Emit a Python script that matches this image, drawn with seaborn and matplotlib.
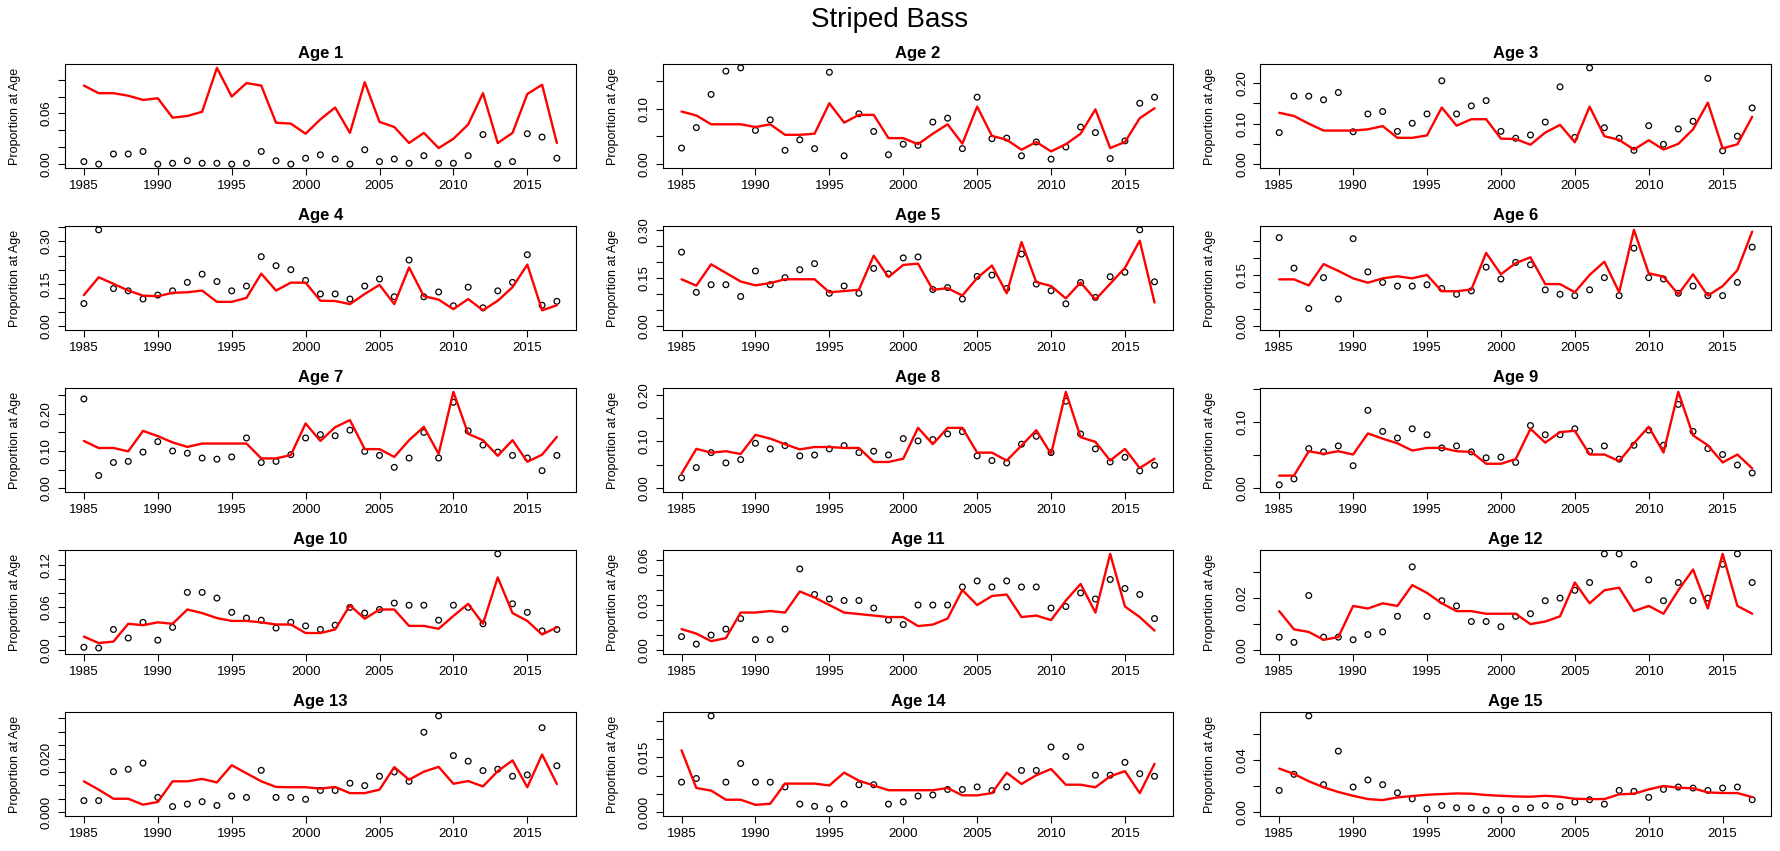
import numpy as np
import pandas as pd
import matplotlib
matplotlib.use("Agg")
import matplotlib.pyplot as plt
import seaborn as sns

# ── Data: observed (points) and predicted (line) proportion at age ───────────
years = list(range(1985, 2018))

obs_age1 = [0.003, 0.000, 0.012, 0.012, 0.015, 0.000, 0.001, 0.004, 0.001, 0.001,
            0.000, 0.001, 0.015, 0.004, 0.000, 0.007, 0.011, 0.006, 0.000, 0.017,
            0.003, 0.006, 0.001, 0.010, 0.001, 0.001, 0.010, 0.035, 0.000, 0.003,
            0.036, 0.032, 0.007]
pred_age1 = [0.093, 0.084, 0.084, 0.081, 0.076, 0.078, 0.055, 0.057, 0.062, 0.114,
             0.080, 0.096, 0.093, 0.049, 0.048, 0.036, 0.053, 0.067, 0.037, 0.097,
             0.050, 0.044, 0.025, 0.037, 0.019, 0.030, 0.047, 0.084, 0.025, 0.037,
             0.083, 0.094, 0.025]

obs_age2 = [0.029, 0.066, 0.126, 0.168, 0.174, 0.061, 0.080, 0.025, 0.044, 0.028,
            0.166, 0.015, 0.091, 0.059, 0.017, 0.036, 0.034, 0.076, 0.083, 0.028,
            0.121, 0.046, 0.047, 0.015, 0.040, 0.009, 0.031, 0.067, 0.057, 0.010,
            0.042, 0.110, 0.121]
pred_age2 = [0.095, 0.088, 0.072, 0.072, 0.072, 0.067, 0.072, 0.053, 0.053, 0.055,
             0.110, 0.075, 0.089, 0.089, 0.047, 0.047, 0.036, 0.055, 0.072, 0.037,
             0.104, 0.051, 0.044, 0.026, 0.040, 0.023, 0.036, 0.055, 0.099, 0.029,
             0.040, 0.083, 0.101]

obs_age3 = [0.078, 0.168, 0.168, 0.159, 0.177, 0.080, 0.124, 0.130, 0.081, 0.101,
            0.124, 0.206, 0.124, 0.144, 0.157, 0.081, 0.064, 0.072, 0.104, 0.191,
            0.066, 0.238, 0.090, 0.064, 0.034, 0.095, 0.049, 0.087, 0.106, 0.212,
            0.033, 0.069, 0.139]
pred_age3 = [0.127, 0.119, 0.100, 0.083, 0.083, 0.083, 0.086, 0.094, 0.065, 0.065,
             0.071, 0.140, 0.095, 0.111, 0.111, 0.063, 0.062, 0.048, 0.078, 0.097,
             0.054, 0.142, 0.069, 0.060, 0.036, 0.059, 0.036, 0.050, 0.086, 0.152,
             0.039, 0.049, 0.117]

obs_age4 = [0.080, 0.341, 0.133, 0.125, 0.096, 0.110, 0.125, 0.155, 0.184, 0.158,
            0.125, 0.142, 0.246, 0.214, 0.200, 0.162, 0.114, 0.114, 0.096, 0.142,
            0.167, 0.104, 0.234, 0.104, 0.121, 0.072, 0.138, 0.065, 0.125, 0.155,
            0.253, 0.074, 0.088]
pred_age4 = [0.110, 0.173, 0.150, 0.126, 0.108, 0.106, 0.118, 0.120, 0.126, 0.086,
             0.086, 0.100, 0.186, 0.126, 0.154, 0.154, 0.090, 0.089, 0.078, 0.114,
             0.146, 0.078, 0.208, 0.106, 0.094, 0.060, 0.096, 0.056, 0.090, 0.138,
             0.218, 0.056, 0.074]

obs_age5 = [0.232, 0.106, 0.130, 0.130, 0.093, 0.173, 0.130, 0.152, 0.177, 0.196,
            0.103, 0.126, 0.103, 0.181, 0.164, 0.214, 0.217, 0.115, 0.121, 0.085,
            0.156, 0.160, 0.118, 0.226, 0.132, 0.111, 0.070, 0.137, 0.090, 0.155,
            0.169, 0.302, 0.139]
pred_age5 = [0.147, 0.127, 0.194, 0.167, 0.140, 0.128, 0.135, 0.147, 0.147, 0.147,
             0.106, 0.110, 0.114, 0.221, 0.154, 0.192, 0.196, 0.114, 0.119, 0.096,
             0.151, 0.190, 0.103, 0.264, 0.138, 0.126, 0.087, 0.137, 0.083, 0.133,
             0.183, 0.268, 0.074]

obs_age6 = [0.261, 0.171, 0.052, 0.143, 0.080, 0.258, 0.160, 0.129, 0.118, 0.118,
            0.122, 0.111, 0.094, 0.104, 0.174, 0.139, 0.188, 0.181, 0.107, 0.094,
            0.090, 0.107, 0.143, 0.090, 0.230, 0.143, 0.139, 0.097, 0.118, 0.090,
            0.090, 0.129, 0.233]
pred_age6 = [0.138, 0.138, 0.120, 0.183, 0.163, 0.141, 0.128, 0.141, 0.147, 0.141,
             0.151, 0.103, 0.103, 0.108, 0.216, 0.153, 0.186, 0.203, 0.124, 0.124,
             0.100, 0.151, 0.190, 0.100, 0.284, 0.156, 0.146, 0.094, 0.153, 0.090,
             0.118, 0.165, 0.279]

obs_age7 = [0.240, 0.034, 0.069, 0.072, 0.097, 0.125, 0.100, 0.094, 0.081, 0.078,
            0.084, 0.135, 0.069, 0.072, 0.090, 0.135, 0.144, 0.141, 0.156, 0.099,
            0.088, 0.056, 0.081, 0.150, 0.081, 0.231, 0.154, 0.116, 0.097, 0.088,
            0.081, 0.047, 0.088]
pred_age7 = [0.127, 0.108, 0.108, 0.099, 0.154, 0.140, 0.123, 0.111, 0.120, 0.120,
             0.120, 0.120, 0.080, 0.080, 0.089, 0.174, 0.127, 0.164, 0.183, 0.105,
             0.105, 0.084, 0.129, 0.165, 0.092, 0.259, 0.146, 0.129, 0.087, 0.129,
             0.071, 0.090, 0.138]

obs_age8 = [0.022, 0.044, 0.076, 0.054, 0.061, 0.096, 0.084, 0.091, 0.069, 0.071,
            0.084, 0.091, 0.076, 0.079, 0.071, 0.106, 0.101, 0.104, 0.116, 0.121,
            0.069, 0.059, 0.054, 0.094, 0.111, 0.076, 0.186, 0.116, 0.084, 0.056,
            0.066, 0.037, 0.049]
pred_age8 = [0.031, 0.084, 0.076, 0.079, 0.073, 0.114, 0.106, 0.094, 0.083, 0.088,
             0.088, 0.086, 0.086, 0.056, 0.056, 0.063, 0.129, 0.094, 0.129, 0.129,
             0.076, 0.076, 0.059, 0.091, 0.124, 0.073, 0.206, 0.109, 0.099, 0.059,
             0.084, 0.043, 0.063]

obs_age9 = [0.005, 0.014, 0.060, 0.055, 0.064, 0.034, 0.118, 0.086, 0.076, 0.090,
            0.081, 0.061, 0.064, 0.055, 0.046, 0.047, 0.039, 0.095, 0.081, 0.081,
            0.090, 0.056, 0.064, 0.044, 0.065, 0.088, 0.065, 0.127, 0.086, 0.060,
            0.051, 0.035, 0.023]
pred_age9 = [0.019, 0.019, 0.056, 0.052, 0.056, 0.051, 0.083, 0.075, 0.068, 0.057,
             0.061, 0.061, 0.056, 0.055, 0.037, 0.037, 0.044, 0.090, 0.069, 0.085,
             0.087, 0.051, 0.051, 0.041, 0.068, 0.093, 0.054, 0.146, 0.080, 0.065,
             0.039, 0.051, 0.030]

obs_age10 = [0.004, 0.003, 0.029, 0.017, 0.039, 0.014, 0.032, 0.081, 0.081, 0.073,
             0.053, 0.045, 0.042, 0.031, 0.039, 0.034, 0.029, 0.035, 0.060, 0.052,
             0.057, 0.066, 0.063, 0.063, 0.042, 0.063, 0.060, 0.037, 0.135, 0.065,
             0.053, 0.027, 0.029]
pred_age10 = [0.019, 0.010, 0.012, 0.037, 0.035, 0.039, 0.037, 0.057, 0.052, 0.045,
              0.041, 0.041, 0.039, 0.036, 0.036, 0.024, 0.024, 0.029, 0.063, 0.044,
              0.057, 0.057, 0.034, 0.034, 0.030, 0.048, 0.065, 0.037, 0.102, 0.052,
              0.041, 0.022, 0.032]

obs_age11 = [0.009, 0.004, 0.010, 0.014, 0.021, 0.007, 0.007, 0.014, 0.054, 0.037,
             0.034, 0.033, 0.033, 0.028, 0.020, 0.017, 0.030, 0.030, 0.030, 0.042,
             0.046, 0.042, 0.046, 0.042, 0.042, 0.028, 0.029, 0.038, 0.034, 0.047,
             0.041, 0.037, 0.021]
pred_age11 = [0.014, 0.011, 0.006, 0.008, 0.025, 0.025, 0.026, 0.025, 0.039, 0.035,
              0.030, 0.025, 0.024, 0.023, 0.022, 0.022, 0.016, 0.017, 0.021, 0.040,
              0.030, 0.036, 0.037, 0.022, 0.023, 0.020, 0.033, 0.044, 0.025, 0.064,
              0.029, 0.022, 0.013]

obs_age12 = [0.005, 0.003, 0.021, 0.005, 0.005, 0.004, 0.006, 0.007, 0.013, 0.032,
             0.013, 0.019, 0.017, 0.011, 0.011, 0.009, 0.013, 0.014, 0.019, 0.020,
             0.023, 0.026, 0.037, 0.037, 0.033, 0.027, 0.019, 0.026, 0.019, 0.020,
             0.033, 0.037, 0.026]
pred_age12 = [0.015, 0.008, 0.007, 0.004, 0.005, 0.017, 0.016, 0.018, 0.017, 0.025,
              0.022, 0.018, 0.015, 0.015, 0.014, 0.014, 0.014, 0.010, 0.011, 0.013,
              0.026, 0.018, 0.023, 0.024, 0.015, 0.017, 0.014, 0.023, 0.031, 0.016,
              0.037, 0.017, 0.014]

obs_age13 = [0.0043, 0.0043, 0.0151, 0.0160, 0.0183, 0.0055, 0.0021, 0.0030, 0.0039, 0.0025,
             0.0060, 0.0055, 0.0156, 0.0055, 0.0055, 0.0048, 0.0081, 0.0081, 0.0108, 0.0099,
             0.0134, 0.0150, 0.0115, 0.0298, 0.0359, 0.0211, 0.0190, 0.0155, 0.0160, 0.0134,
             0.0139, 0.0315, 0.0173]
pred_age13 = [0.0115, 0.0084, 0.0050, 0.0050, 0.0028, 0.0038, 0.0115, 0.0115, 0.0124, 0.0111,
              0.0175, 0.0145, 0.0115, 0.0094, 0.0093, 0.0093, 0.0088, 0.0094, 0.0071, 0.0071,
              0.0084, 0.0168, 0.0121, 0.0151, 0.0169, 0.0106, 0.0116, 0.0096, 0.0153, 0.0193,
              0.0093, 0.0215, 0.0105]

obs_age14 = [0.0082, 0.0092, 0.0263, 0.0082, 0.0133, 0.0082, 0.0082, 0.0069, 0.0022, 0.0016,
             0.0009, 0.0022, 0.0075, 0.0075, 0.0022, 0.0028, 0.0044, 0.0047, 0.0062, 0.0062,
             0.0069, 0.0059, 0.0069, 0.0114, 0.0114, 0.0178, 0.0152, 0.0178, 0.0101, 0.0101,
             0.0136, 0.0105, 0.0098]
pred_age14 = [0.0169, 0.0066, 0.0059, 0.0034, 0.0034, 0.0020, 0.0023, 0.0078, 0.0078, 0.0078,
              0.0073, 0.0108, 0.0086, 0.0073, 0.0060, 0.0060, 0.0060, 0.0060, 0.0066, 0.0046,
              0.0046, 0.0052, 0.0108, 0.0077, 0.0101, 0.0118, 0.0075, 0.0075, 0.0068, 0.0098,
              0.0112, 0.0052, 0.0132]

obs_age15 = [0.0166, 0.0289, 0.0735, 0.0210, 0.0466, 0.0192, 0.0246, 0.0210, 0.0148, 0.0102,
             0.0026, 0.0051, 0.0033, 0.0033, 0.0015, 0.0015, 0.0026, 0.0033, 0.0051, 0.0044,
             0.0077, 0.0095, 0.0061, 0.0166, 0.0159, 0.0113, 0.0174, 0.0192, 0.0184, 0.0166,
             0.0184, 0.0192, 0.0095]
pred_age15 = [0.0333, 0.0292, 0.0236, 0.0190, 0.0154, 0.0125, 0.0100, 0.0092, 0.0113, 0.0123,
              0.0133, 0.0138, 0.0143, 0.0141, 0.0131, 0.0125, 0.0120, 0.0118, 0.0125, 0.0118,
              0.0102, 0.0100, 0.0100, 0.0136, 0.0141, 0.0174, 0.0200, 0.0187, 0.0182, 0.0151,
              0.0146, 0.0146, 0.0115]

# y-axis tick spacing, which ticks get a label, and label decimals per panel
tick_step = [0.02, 0.05, 0.05, 0.05, 0.05, 0.05, 0.05, 0.05, 0.05,
             0.02, 0.01, 0.01, 0.005, 0.005, 0.02]
label_every = [3, 2, 2, 3, 3, 3, 2, 2, 2, 3, 3, 2, 4, 3, 2]
label_decimals = [2] * 12 + [3, 3, 2]

obs_series = [obs_age1, obs_age2, obs_age3, obs_age4, obs_age5, obs_age6, obs_age7,
              obs_age8, obs_age9, obs_age10, obs_age11, obs_age12, obs_age13,
              obs_age14, obs_age15]
pred_series = [pred_age1, pred_age2, pred_age3, pred_age4, pred_age5, pred_age6,
               pred_age7, pred_age8, pred_age9, pred_age10, pred_age11, pred_age12,
               pred_age13, pred_age14, pred_age15]

# ── Long table for seaborn ───────────────────────────────────────────────────
frames = []
for age, (o, p) in enumerate(zip(obs_series, pred_series), start=1):
    frames.append(pd.DataFrame({"year": years, "obs": o, "pred": p, "age": age}))
df = pd.concat(frames, ignore_index=True)

# ── Style ────────────────────────────────────────────────────────────────────
sns.set_theme(style="ticks")
plt.rcParams["font.family"] = ["Liberation Sans", "DejaVu Sans"]
plt.rcParams.update({
    "text.color": "black",
    "axes.labelcolor": "black",
    "axes.edgecolor": "black",
    "xtick.color": "black",
    "ytick.color": "black",
})

fig, axes = plt.subplots(5, 3, figsize=(17.8, 8.51), dpi=100)
fig.subplots_adjust(left=0.0365, right=0.995, top=0.9248, bottom=0.0411,
                    wspace=0.170, hspace=0.558)

for k, ax in enumerate(axes.flat):
    age = k + 1
    d = df[df["age"] == age]

    sns.lineplot(data=d, x="year", y="pred", ax=ax, color="#ff0000",
                 linewidth=1.7, estimator=None)
    sns.scatterplot(data=d, x="year", y="obs", ax=ax, s=17, marker="o",
                    facecolors="none", edgecolor="black", linewidth=0.9)

    # y range runs from 0 to the panel maximum, padded 4% each side
    ymax = max(d["obs"].max(), d["pred"].max())
    lo, hi = -0.04 * ymax, 1.04 * ymax
    ax.margins(x=0.04)

    step = tick_step[k]
    ticks = np.arange(0, hi + step, step)
    ticks = ticks[ticks <= hi + 1e-12]
    labels = [f"{t:.{label_decimals[k]}f}" if j % label_every[k] == 0 else ""
              for j, t in enumerate(ticks)]
    ax.set_yticks(ticks)
    ax.set_yticklabels(labels, rotation=90, va="center")
    ax.set_ylim(lo, hi)

    ax.set_xticks(range(1985, 2016, 5))
    ax.tick_params(axis="both", length=4.8, width=0.8, labelsize=9.5, pad=4)

    for sp in ax.spines.values():
        sp.set_color("black")
        sp.set_linewidth(0.8)

    ax.set_xlabel("")
    ax.set_ylabel("Proportion at Age", fontsize=9, va="center")
    ax.yaxis.set_label_coords(-50 / 511, 0.5)
    ax.set_title(f"Age {age}", fontsize=12, fontweight="bold", pad=4.5)

fig.suptitle("Striped Bass", fontsize=20, y=0.976, va="center")

fig.savefig("out.png", dpi=100)
print("Saved out.png")
